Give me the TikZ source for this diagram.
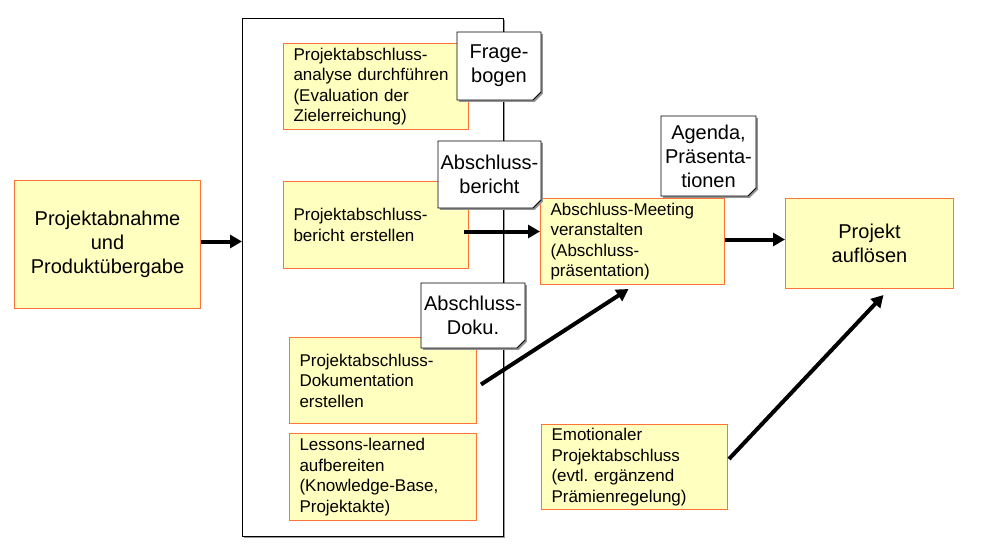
\documentclass[tikz,border=0pt]{standalone}
\usepackage{fontspec}
\setmainfont{Liberation Sans}
\usetikzlibrary{arrows.meta,shadows}
\definecolor{boxfill}{RGB}{255,255,192}
\definecolor{boxline}{RGB}{255,115,55}
\tikzset{
  procbox/.style={draw=boxline, fill=boxfill, line width=1pt, rectangle,
    inner xsep=10pt, inner ysep=0pt, align=left, anchor=north west,
    font=\fontsize{17}{20.5}\selectfont},
  bigbox/.style={draw=boxline, fill=boxfill, line width=1pt, rectangle,
    inner sep=0pt, align=center, anchor=north west,
    font=\fontsize{20}{24}\selectfont},
  container/.style={draw=black, fill=white, line width=0.9pt, rectangle,
    inner sep=0pt, anchor=north west,
    drop shadow={shadow xshift=1.5pt, shadow yshift=-1.5pt, fill=gray!80, opacity=1}},
  notetext/.style={inner sep=0pt, align=center, font=\fontsize{20}{24}\selectfont},
  arr/.style={line width=4pt, -{Triangle[length=12pt,width=13pt]}},
}
\newcommand\docnote[6]{%
  \fill[gray!85] ({#2+1.8},{#3+1.8}) -- ({#4+1.8},{#3+1.8}) -- ({#4+1.8},{#5+1.8-8}) -- ({#4+1.8-8},{#5+1.8}) -- ({#2+1.8},{#5+1.8}) -- cycle;
  \draw[fill=white, line width=0.9pt] (#2,#3) -- (#4,#3) -- (#4,{#5-8}) -- ({#4-8},#5) -- (#2,#5) -- cycle;
  \draw[fill=gray!45, line width=0.6pt] (#4,{#5-8}) -- ({#4-8},#5) -- ({#4-3},{#5-5}) -- cycle;
  \node[notetext] (#1) at ({(#2+#4)/2},{(#3+#5)/2}) {#6};
}
\begin{document}
\begin{tikzpicture}[x=1pt,y=-1pt]
\useasboundingbox (0,0) rectangle (994,546);

% container
\node[container, minimum width=261pt, minimum height=518pt] (cont) at (242,18) {};

% process boxes
\node[bigbox, minimum width=186pt, minimum height=128pt] (L) at (14,180)
  {Projektabnahme\\und\\Produktübergabe};
\node[procbox, text width=165pt, minimum height=86pt] (A) at (283,43)
  {Projektabschluss-\\analyse durchführen\\(Evaluation der\\Zielerreichung)};
\node[procbox, text width=165pt, minimum height=87pt] (B) at (283,181)
  {Projektabschluss-\\bericht erstellen};
\node[procbox, text width=167pt, minimum height=86pt] (C) at (289,337)
  {Projektabschluss-\\Dokumentation\\erstellen};
\node[procbox, text width=167pt, minimum height=87pt] (D) at (289,433)
  {Lessons-learned\\aufbereiten\\(Knowledge-Base,\\Projektakte)};
\node[procbox, text width=164pt, minimum height=86pt] (E) at (540,198)
  {Abschluss-Meeting\\veranstalten\\(Abschluss-\\präsentation)};
\node[procbox, text width=166pt, minimum height=85pt] (G) at (541,424)
  {Emotionaler\\Projektabschluss\\(evtl.\ ergänzend\\Prämienregelung)};
\node[bigbox, minimum width=168pt, minimum height=90pt] (F) at (785,198)
  {Projekt\\auflösen};

% documents
\docnote{n1}{457}{32}{541}{100}{Frage-\\bogen}
\docnote{n2}{438}{141}{541}{208}{Abschluss-\\bericht}
\docnote{n3}{661}{116}{756}{196}{Agenda,\\Präsenta-\\tionen}
\docnote{n4}{421}{283}{525}{348}{Abschluss-\\Doku.}

% arrows
\draw[arr] ([yshift=3pt]L.east) -- ([yshift=3pt]L.east -| cont.west);
\draw[arr] ([xshift=-5pt,yshift=-6.5pt]B.east) -- ([yshift=-6.5pt]B.east -| E.west);
\draw[arr] ([yshift=2pt]E.east) -- ([yshift=2pt]E.east -| F.west);
\draw[arr] ([xshift=4pt,yshift=-4pt]C.east) -- ([xshift=-4pt,yshift=-4pt]E.south);
\draw[arr] ([xshift=1pt,yshift=8pt]G.east) -- ([xshift=14pt,yshift=-6pt]F.south);
\end{tikzpicture}
\end{document}
